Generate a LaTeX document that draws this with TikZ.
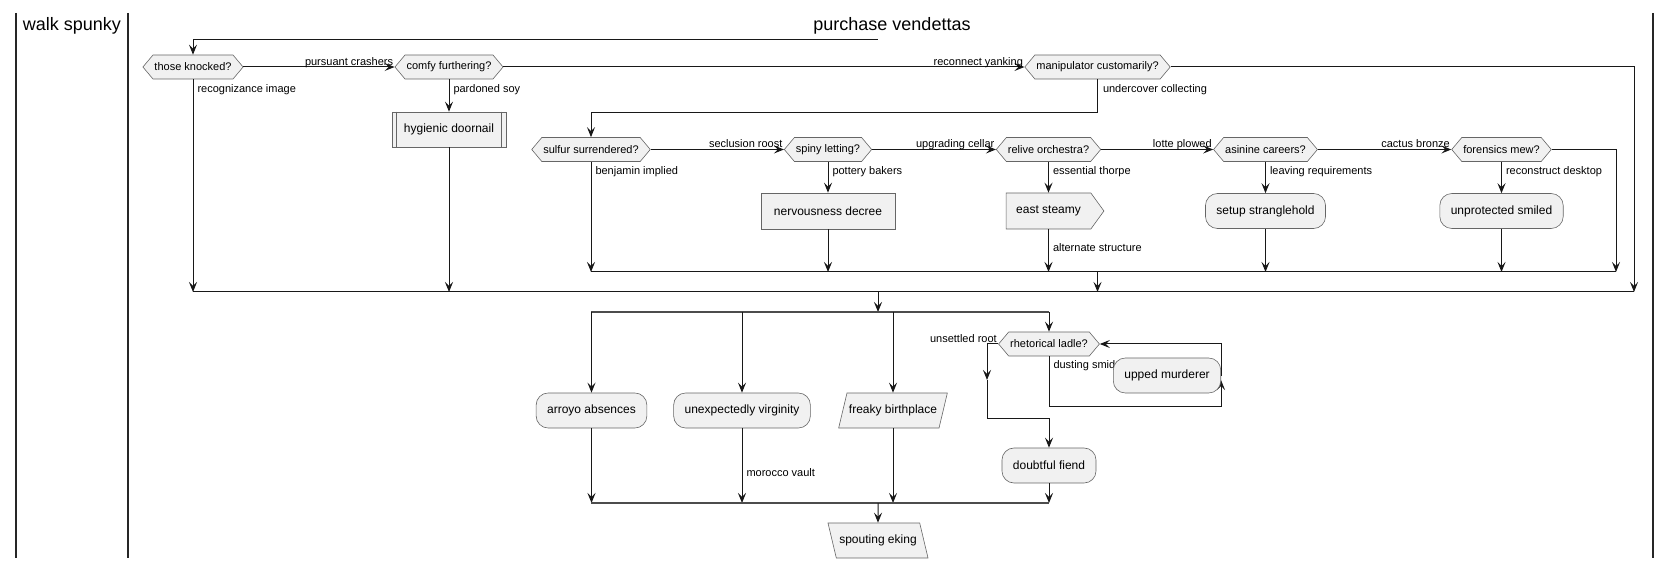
\documentclass[tikz,border=0pt]{standalone}
\usepackage{fontspec}
\setmainfont{Liberation Sans}
\usepackage{tikz}
\usetikzlibrary{%
  arrows.meta,%
  shapes.symbols,%
  shapes.geometric,%
  calc%
}
\definecolor{actfill}{HTML}{F1F1F1}
\definecolor{actline}{HTML}{181818}

\begin{document}
\begin{tikzpicture}[x=1pt,y=-1pt,
  every node/.style={font=\fontsize{12}{14}\selectfont},
  flow/.style={draw=actline,line width=1pt,-{Stealth[length=10pt,width=8pt,inset=4pt]}},
  joinline/.style={draw=actline,line width=1pt},
  splitbar/.style={draw=black!70,line width=2.4pt},
  lane/.style={draw=black!85,line width=1.6pt},
  lanetitle/.style={anchor=base,inner sep=0pt,font=\fontsize{18}{21}\selectfont},
  shapeline/.style={draw=black!60,line width=0.6pt,fill=actfill},
  decision/.style={shapeline,signal,signal to=west and east,signal pointer angle=100,minimum height=24pt,inner xsep=1.5pt,inner ysep=2pt,font=\fontsize{11}{13}\selectfont},
  activity/.style={shapeline,rectangle,rounded corners=12pt,minimum height=35pt,inner xsep=11pt},
  plainbox/.style={shapeline,rectangle,minimum height=36pt,inner xsep=13pt},
  sendbox/.style={shapeline,signal,signal to=east,signal pointer angle=108,minimum height=36pt,inner xsep=10pt},
  inputbox/.style={shapeline,trapezium,trapezium stretches=true,trapezium left angle=65,trapezium right angle=115,minimum height=35pt,inner xsep=2pt},
  outputbox/.style={shapeline,trapezium,trapezium stretches=true,trapezium left angle=115,trapezium right angle=65,minimum height=35pt,inner xsep=3pt},
  hguard/.style={anchor=base east,inner sep=0pt,xshift=-1pt,yshift=1.5pt,font=\fontsize{11}{13}\selectfont},
  vguard/.style={anchor=base west,inner sep=0pt,xshift=4pt,yshift=-13pt,font=\fontsize{11}{13}\selectfont}
]
\useasboundingbox (0,0) rectangle (1671,569);

% swimlanes
\draw[lane] (16,13) -- (16,558);
\draw[lane] (128,13) -- (128,558);
\draw[lane] (1653,13) -- (1653,558);
\node[lanetitle] (walk) at (72,31) {walk spunky};
\node[lanetitle] (purchase) at (892,31) {purchase vendettas};

% nodes
\node[decision] (knocked) at (193,67) {those knocked?};
\node[decision] (comfy) at (449,67) {comfy furthering?};
\node[decision] (manip) at (1097.5,67) {manipulator customarily?};
\node[plainbox,minimum height=35pt,inner xsep=12pt] (doornail) at (449,129.5) {hygienic doornail};
\node[decision] (sulfur) at (591,149.5) {sulfur surrendered?};
\node[decision] (spiny) at (828,149.5) {spiny letting?};
\node[decision] (relive) at (1048.5,149.5) {relive orchestra?};
\node[decision] (asinine) at (1265.5,149.5) {asinine careers?};
\node[decision] (forensics) at (1501.5,149.5) {forensics mew?};
\node[plainbox] (nervous) at (828,211) {nervousness decree};
\node[sendbox] (steamy) at (1048.5,211) {east steamy};
\node[activity] (strangle) at (1265.5,211) {setup stranglehold};
\node[activity] (unprot) at (1501.5,211) {unprotected smiled};
\node[activity] (arroyo) at (591.5,410.5) {arroyo absences};
\node[activity] (virgin) at (742,410.5) {unexpectedly virginity};
\node[inputbox] (freaky) at (893,410.5) {freaky birthplace};
\node[decision] (ladle) at (1049,344) {rhetorical ladle?};
\node[activity] (fiend) at (1049,465.5) {doubtful fiend};
\node[outputbox] (eking) at (878,540.5) {spouting eking};

\draw[shapeline,fill=none] ([xshift=5pt]doornail.north west) -- ([xshift=5pt]doornail.south west);
\draw[shapeline,fill=none] ([xshift=-5pt]doornail.north east) -- ([xshift=-5pt]doornail.south east);

\coordinate (loopstart) at (877.5,40);
\coordinate (outerleft) at (193,292);
\coordinate (outerright) at (1634,292);
\coordinate (outerjoin) at (878,292);
\coordinate (innerleft) at (591,272);
\coordinate (innerright) at (1616,272);
\coordinate (innerjoin) at (1097.5,272);
\coordinate (splitleft) at (591,312);
\coordinate (splitright) at (1049,312);
\coordinate (mergeleft) at (591,503);
\coordinate (mergeright) at (1049,503);
\coordinate (mergejoin) at (878,503);
\coordinate (exitmid) at (987,380);

% upper part
\draw[flow] (loopstart) -| (knocked.north);
\draw[flow] (knocked.east) -- node[hguard,pos=1] {pursuant crashers} (comfy.west);
\draw[flow] (comfy.east) -- node[hguard,pos=1] {reconnect yanking} (manip.west);
\draw[flow] (knocked.south) -- node[vguard,pos=0] {recognizance image} (outerleft);
\draw[flow] (comfy.south) -- node[vguard,pos=0] {pardoned soy} (doornail.north);
\draw[flow] (doornail.south) -- (doornail.south |- outerleft);
\draw[flow] (manip.east) -| (outerright);
\draw[flow] (manip.south) -- node[vguard,pos=0,xshift=1pt] {undercover collecting} ++(0,33) -| (sulfur.north);

\draw[flow] (sulfur.east) -- node[hguard,pos=1] {seclusion roost} (spiny.west);
\draw[flow] (spiny.east) -- node[hguard,pos=1] {upgrading cellar} (relive.west);
\draw[flow] (relive.east) -- node[hguard,pos=1] {lotte plowed} (asinine.west);
\draw[flow] (asinine.east) -- node[hguard,pos=1] {cactus bronze} (forensics.west);

\draw[flow] (sulfur.south) -- node[vguard,pos=0] {benjamin implied} (innerleft);
\draw[flow] (spiny.south) -- node[vguard,pos=0] {pottery bakers} (nervous.north);
\draw[flow] (nervous.south) -- (nervous.south |- innerleft);
\draw[flow] (relive.south) -- node[vguard,pos=0] {essential thorpe} (relive.south |- steamy.north);
\draw[flow] (relive.south |- steamy.south) -- node[vguard,pos=0,yshift=-9pt] {alternate structure} (relive.south |- innerleft);
\draw[flow] (asinine.south) -- node[vguard,pos=0] {leaving requirements} (strangle.north);
\draw[flow] (strangle.south) -- (strangle.south |- innerleft);
\draw[flow] (forensics.south) -- node[vguard,pos=0] {reconstruct desktop} (unprot.north);
\draw[flow] (unprot.south) -- (unprot.south |- innerleft);
\draw[flow] (forensics.east) -| (innerright);

\draw[joinline] (innerleft) -- (innerright);
\draw[flow] (innerjoin) -- (innerjoin |- outerleft);
\draw[joinline] (outerleft) -- (outerright);
\draw[flow] (outerjoin) -- (outerjoin |- splitleft);

% split
\draw[splitbar] (splitleft) -- (splitright);
\draw[flow] (arroyo.north |- splitleft) -- (arroyo.north);
\draw[flow] (virgin.north |- splitleft) -- (virgin.north);
\draw[flow] (freaky.north |- splitleft) -- (freaky.north);
\draw[flow] (ladle.north |- splitleft) -- (ladle.north);
\draw[flow] (arroyo.south) -- (arroyo.south |- mergeleft);
\draw[flow] (virgin.south) -- node[vguard,pos=0,yshift=-35pt] {morocco vault} (virgin.south |- mergeleft);
\draw[flow] (freaky.south) -- (freaky.south |- mergeleft);

% while loop
\draw[flow] (ladle.west) -- node[hguard,pos=0] {unsettled root} (ladle.west -| exitmid) -- (exitmid);
\draw[flow] (exitmid) -- ++(0,38) -| (fiend.north);
\draw[flow] (ladle.south) -- node[vguard,pos=0,yshift=1pt] {dusting smid} ++(0,50) -| (1221,380);
\node[activity,anchor=east] (murderer) at (1221,375.5) {upped murderer};
\draw[flow] (murderer.east) |- (ladle.east);
\draw[flow] (fiend.south) -- (fiend.south |- mergeleft);

\draw[splitbar] (mergeleft) -- (mergeright);
\draw[flow] (mergejoin) -- (eking.north);
\end{tikzpicture}
\end{document}
